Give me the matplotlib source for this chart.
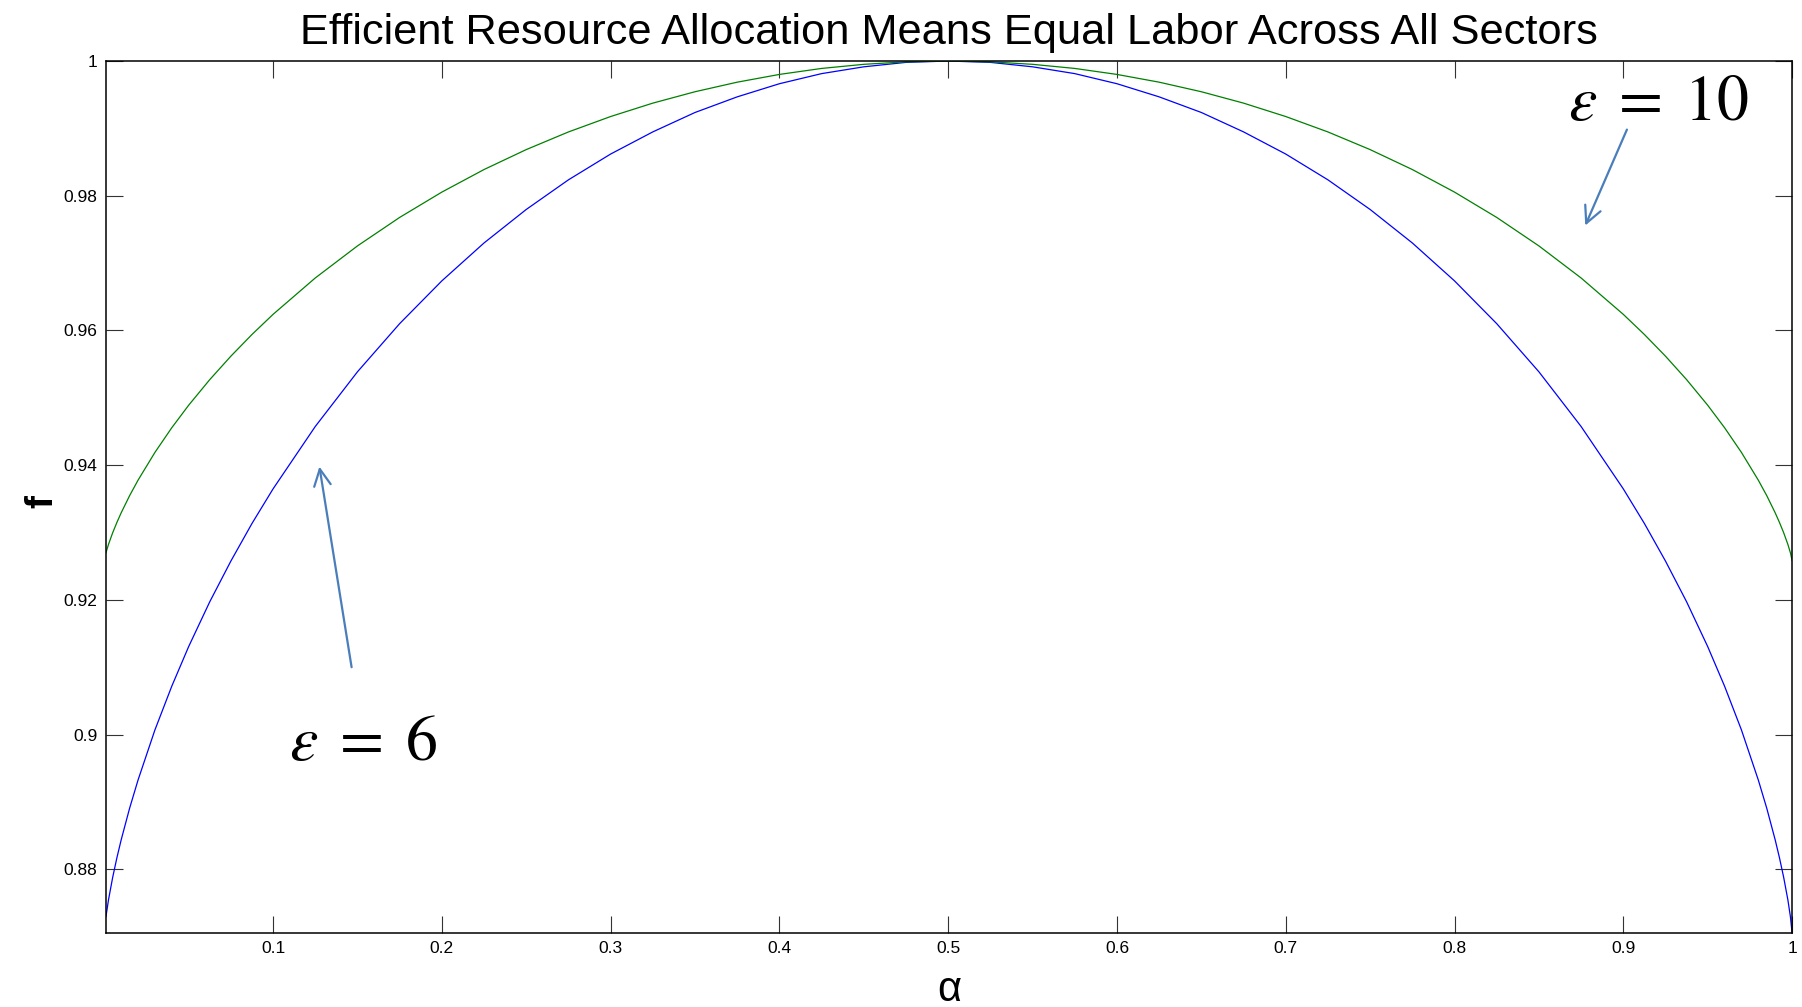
import matplotlib
matplotlib.use("Agg")
import matplotlib.pyplot as plt

# labor share in sector 1
alpha = [0.001, 0.0025, 0.005, 0.0075, 0.01, 0.015, 0.02, 0.03, 0.04, 0.05,
         0.0625, 0.075, 0.0875, 0.1, 0.125, 0.15, 0.175, 0.2, 0.225, 0.25,
         0.275, 0.3, 0.325, 0.35, 0.375, 0.4, 0.425, 0.45, 0.475, 0.5,
         0.525, 0.55, 0.575, 0.6, 0.625, 0.65, 0.675, 0.7, 0.725, 0.75,
         0.775, 0.8, 0.825, 0.85, 0.875, 0.9, 0.9125, 0.925, 0.9375, 0.95,
         0.96, 0.97, 0.98, 0.985, 0.99, 0.9925, 0.995, 0.9975, 0.999, 1.0]

# f for epsilon = 6 (blue)
f_eps6 = [0.87298, 0.87547, 0.87883, 0.88174, 0.88436, 0.88906, 0.89325, 0.90069, 0.90719, 0.91307,
          0.91972, 0.92576, 0.93134, 0.93648, 0.94574, 0.95386, 0.96101, 0.96736, 0.97299, 0.97796,
          0.98236, 0.98619, 0.98948, 0.99236, 0.99468, 0.99663, 0.99813, 0.99914, 0.99980, 1.00000,
          0.99980, 0.99914, 0.99813, 0.99663, 0.99468, 0.99236, 0.98948, 0.98619, 0.98236, 0.97796,
          0.97299, 0.96736, 0.96101, 0.95386, 0.94574, 0.93648, 0.93134, 0.92576, 0.91972, 0.91307,
          0.90719, 0.90069, 0.89325, 0.88906, 0.88436, 0.88174, 0.87883, 0.87547, 0.87298, 0.87055]

# f for epsilon = 10 (green)
f_eps10 = [0.92700, 0.92824, 0.92998, 0.93151, 0.93292, 0.93547, 0.93777, 0.94189, 0.94556, 0.94890,
           0.95270, 0.95618, 0.95940, 0.96239, 0.96779, 0.97255, 0.97678, 0.98054, 0.98389, 0.98685,
           0.98947, 0.99176, 0.99375, 0.99544, 0.99686, 0.99801, 0.99890, 0.99951, 0.99988, 1.00000,
           0.99988, 0.99951, 0.99890, 0.99801, 0.99686, 0.99544, 0.99375, 0.99176, 0.98947, 0.98685,
           0.98389, 0.98054, 0.97678, 0.97255, 0.96779, 0.96239, 0.95940, 0.95618, 0.95270, 0.94890,
           0.94556, 0.94189, 0.93777, 0.93547, 0.93292, 0.93151, 0.92998, 0.92824, 0.92700, 0.92587]

xticks = [0.1, 0.2, 0.3, 0.4, 0.5, 0.6, 0.7, 0.8, 0.9, 1.0]
xticklabels = ["0.1", "0.2", "0.3", "0.4", "0.5", "0.6", "0.7", "0.8", "0.9", "1"]
yticks = [0.88, 0.90, 0.92, 0.94, 0.96, 0.98, 1.0]
yticklabels = ["0.88", "0.9", "0.92", "0.94", "0.96", "0.98", "1"]

plt.rcParams["font.family"] = ["Liberation Sans", "DejaVu Sans"]
plt.rcParams["mathtext.fontset"] = "stix"

fig = plt.figure(figsize=(18.02, 10.07), dpi=100)
ax = fig.add_axes([0.0588, 0.0735, 0.9357, 0.8659])

ax.plot(alpha, f_eps6, color="#0000ff", lw=0.9)
ax.plot(alpha, f_eps10, color="#008000", lw=0.9)

ax.set_xlim(alpha[0], alpha[-1])
ax.set_ylim(min(f_eps6), 1.0)

ax.set_xticks(xticks)
ax.set_xticklabels(xticklabels)
ax.set_yticks(yticks)
ax.set_yticklabels(yticklabels)
ax.tick_params(direction="in", top=True, right=True, length=12, width=0.8,
               labelsize=12.5, pad=6, color="#333333")
for s in ax.spines.values():
    s.set_linewidth(1.1)

ax.set_title("Efficient Resource Allocation Means Equal Labor Across All Sectors",
             fontsize=31.2, pad=12)
ax.set_xlabel("α", fontsize=30, labelpad=10)
ax.set_ylabel("f", fontsize=28, fontweight="bold")
ax.yaxis.set_label_coords(-0.027, 0.495)

arrow_col = "#4a7ebb"
ax.annotate("", xy=(0.1272, 0.9402), xytext=(0.1468, 0.9096),
            arrowprops=dict(arrowstyle="->", color=arrow_col, lw=1.6,
                            mutation_scale=30))
ax.text(0.1097, 0.8962, r"$\varepsilon\;=\;6$", fontsize=46, ha="left", va="baseline")

ax.annotate("", xy=(0.8768, 0.9752), xytext=(0.9028, 0.9902),
            arrowprops=dict(arrowstyle="->", color=arrow_col, lw=1.6,
                            mutation_scale=30))
ax.text(0.8670, 0.9912, r"$\varepsilon\;=\;10$", fontsize=46, ha="left", va="baseline")

fig.savefig("out.png", dpi=100)
